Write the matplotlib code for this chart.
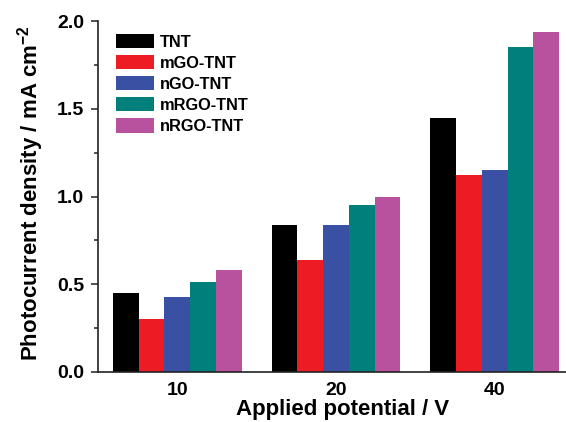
import matplotlib
matplotlib.use("Agg")
import matplotlib.pyplot as plt
import numpy as np
from matplotlib.ticker import MultipleLocator

categories = ["10", "20", "40"]
series_names = ["TNT", "mGO-TNT", "nGO-TNT", "mRGO-TNT", "nRGO-TNT"]
tnt = [0.45, 0.84, 1.45]
mgo_tnt = [0.30, 0.64, 1.12]
ngo_tnt = [0.43, 0.84, 1.15]
mrgo_tnt = [0.51, 0.95, 1.85]
nrgo_tnt = [0.58, 1.00, 1.94]
colors = ["#000000", "#ED1C24", "#3A51A3", "#007F7B", "#B8529F"]

plt.rcParams['font.family'] = ['Liberation Sans', 'DejaVu Sans']
plt.rcParams['font.weight'] = 'bold'
plt.rcParams['mathtext.fontset'] = 'custom'
plt.rcParams['mathtext.rm'] = 'Liberation Sans:bold'
plt.rcParams['mathtext.bf'] = 'Liberation Sans:bold'
plt.rcParams['mathtext.default'] = 'bf'

W, H = 566, 422
fig = plt.figure(figsize=(W/100, H/100), dpi=100)
left, right_px, top, bottom = 98, 574, 21, 372
ax = fig.add_axes([left/W, 1 - bottom/H, (right_px-left)/W, (bottom-top)/H])

data = [tnt, mgo_tnt, ngo_tnt, mrgo_tnt, nrgo_tnt]
x = np.arange(len(categories))
bw = 0.162
for i, (name, vals, c) in enumerate(zip(series_names, data, colors)):
    ax.bar(x + (i - 2) * bw, vals, width=bw, color=c, label=name, linewidth=0)

ax.set_xlim(-0.5, 2.5)
ax.set_ylim(0, 2.0)
ax.set_xticks(x)
ax.set_xticklabels(categories)
ax.yaxis.set_major_locator(MultipleLocator(0.5))
ax.yaxis.set_minor_locator(MultipleLocator(0.25))
ax.yaxis.set_major_formatter(matplotlib.ticker.FormatStrFormatter('%.1f'))
ax.tick_params(axis='y', which='major', direction='out', length=5, width=1.1, labelsize=14, pad=5, color='#222222')
ax.tick_params(axis='y', which='minor', direction='out', length=3, width=1.1, color='#222222')
ax.tick_params(axis='x', length=0, labelsize=14, pad=7)
for s in ['top', 'right']:
    ax.spines[s].set_visible(False)
for s in ['left', 'bottom']:
    ax.spines[s].set_linewidth(1.2)
    ax.spines[s].set_color('#222222')

for lbl in ax.get_xticklabels() + ax.get_yticklabels():
    lbl.set_fontweight('bold')

fig.text(343/W, 1 - 409/H, "Applied potential / V", ha='center', va='center', fontsize=16, fontweight='bold')
fig.text(31/W, 1 - 193/H, r"Photocurrent density / mA cm$^{-2}$", ha='center', va='center', rotation=90, fontsize=16, fontweight='bold')

leg = ax.legend(loc='upper left', bbox_to_anchor=(116/W, 1 - 34/H), bbox_transform=fig.transFigure,
                frameon=False, fontsize=11.8, handlelength=2.3, handleheight=0.95,
                labelspacing=0.33, handletextpad=0.35, borderpad=0, borderaxespad=0)
for t in leg.get_texts():
    t.set_fontweight('bold')

fig.savefig("out.png", dpi=100)
